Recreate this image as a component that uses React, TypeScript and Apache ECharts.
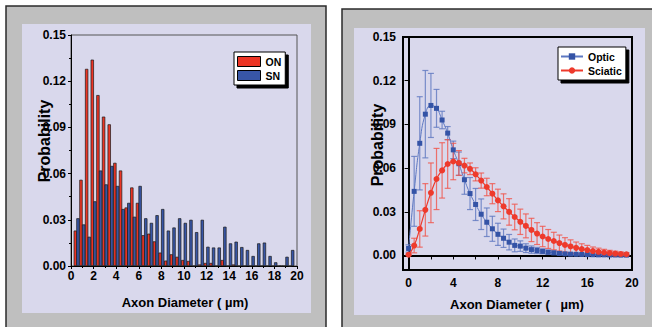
import React, { useEffect, useRef } from "react";
import * as echarts from "echarts";

// ---------- Left panel: histogram ----------
const binCenters = [0.5, 1, 1.5, 2, 2.5, 3, 3.5, 4, 4.5, 5, 5.5, 6, 6.5, 7, 7.5, 8, 8.5, 9, 9.5, 10,
  10.5, 11, 11.5, 12, 12.5, 13, 13.5, 14, 14.5, 15, 15.5, 16, 16.5, 17, 17.5, 18, 18.5, 19, 19.5];
const onValues = [0.023, 0.056, 0.128, 0.134, 0.111, 0.097, 0.092, 0.067, 0.062, 0.038, 0.051, 0.041, 0.020, 0.021, 0.016, 0.0087, 0.0035, 0.0076, 0.006, 0.0039,
  0.0033, 0, 0.001, 0.002, 0.002, 0, 0.0039, 0, 0.001, 0, 0, 0, 0, 0, 0, 0, 0, 0, 0];
const snValues = [0.031, 0.027, 0.019, 0.042, 0.062, 0.053, 0.065, 0.052, 0.037, 0.041, 0.032, 0.052, 0.031, 0.028, 0.033, 0.037, 0.023, 0.025, 0.031, 0.028,
  0.030, 0.022, 0.030, 0.0125, 0.012, 0.012, 0.0255, 0.0147, 0.0158, 0.0123, 0.0104, 0.0065, 0.0147, 0.0152, 0.0065, 0.0024, 0, 0.006, 0.0104];
const leftXTicks = [0, 2, 4, 6, 8, 10, 12, 14, 16, 18, 20];
const leftYTicks = [0, 0.03, 0.06, 0.09, 0.12, 0.15];

// ---------- Right panel: distributions with error bars ----------
const diameters = [0, 0.5, 1, 1.5, 2, 2.5, 3, 3.5, 4, 4.5, 5, 5.5, 6, 6.5, 7, 7.5, 8, 8.5, 9, 9.5,
  10, 10.5, 11, 11.5, 12, 12.5, 13, 13.5, 14, 14.5, 15, 15.5, 16, 16.5, 17, 17.5, 18, 18.5, 19, 19.5];
const opticMean = [0.0048, 0.044, 0.077, 0.097, 0.103, 0.101, 0.093, 0.084, 0.0725, 0.063, 0.052, 0.0425, 0.035, 0.0283, 0.0228, 0.0183, 0.0145, 0.0118, 0.0091, 0.0069,
  0.0064, 0.005, 0.004, 0.0034, 0.0028, 0.0022, 0.0018, 0.0014, 0.0011, 0.0009, 0.0008, 0.0007, 0.0006, 0.0005, 0.0004, 0.0004, 0.0003, 0.0003, 0.0002, 0.0002];
const opticErr = [0.0025, 0.024, 0.032, 0.030, 0.022, 0.013, 0.006, 0.0045, 0.006, 0.008, 0.010, 0.011, 0.011, 0.0105, 0.0098, 0.0086, 0.0076, 0.0063, 0.0053, 0.0044,
  0.0036, 0.003, 0.0025, 0.0021, 0.0017, 0.0014, 0.0012, 0.001, 0.0008, 0.0007, 0.0006, 0.0005, 0.0004, 0.0004, 0.0003, 0.0003, 0.0003, 0.0002, 0.0002, 0.0002];
const sciaticMean = [0.0005, 0.0068, 0.0182, 0.0313, 0.043, 0.0525, 0.0584, 0.0628, 0.0645, 0.0635, 0.0617, 0.0595, 0.0557, 0.0514, 0.047, 0.0424, 0.0378, 0.0337, 0.0299, 0.0264,
  0.0231, 0.0203, 0.0175, 0.015, 0.013, 0.0113, 0.0099, 0.0085, 0.0072, 0.0062, 0.0052, 0.0044, 0.0037, 0.003, 0.0025, 0.002, 0.0016, 0.0013, 0.001, 0.0008];
const sciaticErr = [0.0005, 0.005, 0.0125, 0.018, 0.0205, 0.021, 0.019, 0.0167, 0.0125, 0.0085, 0.005, 0.004, 0.0045, 0.0052, 0.006, 0.0069, 0.0077, 0.0086, 0.0091, 0.0088,
  0.0087, 0.0082, 0.008, 0.0075, 0.007, 0.0065, 0.006, 0.0055, 0.005, 0.0045, 0.004, 0.0036, 0.0032, 0.0028, 0.0025, 0.0022, 0.0019, 0.0016, 0.0014, 0.0012];
const rightXTicks = [0, 4, 8, 12, 16, 20];
const rightXMinor = [0, 2, 4, 6, 8, 10, 12, 14, 16, 18, 20];
const rightYTicks = [0, 0.03, 0.06, 0.09, 0.12, 0.15];

const ARIAL = "Arial, 'Liberation Sans', sans-serif";
const LAVENDER = "#d9d8ec";
const FRAME = "#bfbfbf";
const RED = "#ec3424";
const BLUE = "#3856a6";

const tickLabel = { color: "#000", fontFamily: ARIAL, fontWeight: "bold", fontSize: 12 };

function errorBarRenderer(color: string) {
  return (params: any, api: any) => {
    const x = api.value(0);
    const lo = api.value(1);
    const hi = api.value(2);
    const top = api.coord([x, hi]);
    const bot = api.coord([x, lo]);
    const hw = 3;
    const style = { stroke: color, lineWidth: 1.2 };
    return {
      type: "group",
      children: [
        { type: "line", shape: { x1: top[0], y1: top[1], x2: bot[0], y2: bot[1] }, style },
        { type: "line", shape: { x1: top[0] - hw, y1: top[1], x2: top[0] + hw, y2: top[1] }, style },
        { type: "line", shape: { x1: bot[0] - hw, y1: bot[1], x2: bot[0] + hw, y2: bot[1] }, style },
      ],
    };
  };
}

export default function App() {
  const ref = useRef<HTMLDivElement>(null);
  useEffect(() => {
    if (!ref.current) return;
    const chart = echarts.init(ref.current, null, { renderer: "svg" });
    const option: any = {
      animation: false,
      backgroundColor: "#fff",
      graphic: [
        { type: "rect", z: -10, shape: { x: 6, y: 6, width: 320, height: 330 }, style: { fill: FRAME, stroke: "#2b2b2b", lineWidth: 1.5 } },
        { type: "rect", z: -9, shape: { x: 22, y: 24, width: 289, height: 289 }, style: { fill: LAVENDER } },
        { type: "rect", z: -10, shape: { x: 342, y: 9, width: 330, height: 330 }, style: { fill: FRAME, stroke: "#2b2b2b", lineWidth: 1.5 } },
        { type: "rect", z: -9, shape: { x: 354, y: 28, width: 291, height: 287 }, style: { fill: LAVENDER } },
        { type: "text", z: 50, x: 44, y: 141, rotation: Math.PI / 2, style: { text: "Probability", fill: "#000", font: `bold 16px ${ARIAL}`, textAlign: "center", textVerticalAlign: "middle" } },
        { type: "text", z: 50, x: 377, y: 145, rotation: Math.PI / 2, style: { text: "Probability", fill: "#000", font: `bold 16px ${ARIAL}`, textAlign: "center", textVerticalAlign: "middle" } },
        { type: "text", z: 50, x: 185, y: 302, style: { text: "Axon Diameter ( µm)", fill: "#000", font: `bold 13px ${ARIAL}`, textAlign: "center", textVerticalAlign: "middle" } },
        { type: "text", z: 50, x: 517, y: 304, style: { text: "Axon Diameter (   µm)", fill: "#000", font: `bold 13px ${ARIAL}`, textAlign: "center", textVerticalAlign: "middle" } },
      ],
      grid: [
        { left: 71, top: 35, width: 226, height: 231, show: true, borderColor: "#555", borderWidth: 1, backgroundColor: "transparent" },
        { left: 403, top: 37, width: 229, height: 233, show: true, borderColor: "#000", borderWidth: 2, backgroundColor: "transparent" },
      ],
      legend: [
        {
          left: 234, top: 52, orient: "vertical", data: ["ON", "SN"], icon: "rect", itemWidth: 23, itemHeight: 10, itemGap: 3,
          padding: [4, 4, 4, 3], backgroundColor: "#fff", borderColor: "#000", borderWidth: 1,
          shadowColor: "#000", shadowBlur: 0, shadowOffsetX: 3, shadowOffsetY: 3,
          itemStyle: { borderColor: "#000", borderWidth: 1 },
          textStyle: { color: "#000", fontFamily: ARIAL, fontWeight: "bold", fontSize: 10.5 },
        },
        {
          left: 558, top: 47, orient: "vertical", data: ["Optic", "Sciatic"], itemWidth: 22, itemHeight: 8, itemGap: 3,
          padding: [4, 4, 4, 2], backgroundColor: "#fff", borderColor: "#000", borderWidth: 1,
          shadowColor: "#000", shadowBlur: 0, shadowOffsetX: 3, shadowOffsetY: 3,
          textStyle: { color: "#000", fontFamily: ARIAL, fontWeight: "bold", fontSize: 10.5 },
        },
      ],
      xAxis: [
        {
          gridIndex: 0, type: "value", min: 0, max: 20, interval: 2,
          axisLine: { show: true, lineStyle: { color: "#000", width: 1 } },
          axisTick: { show: true, length: 3, lineStyle: { color: "#000" } },
          minorTick: { show: true, splitNumber: 2, length: 2, lineStyle: { color: "#000" } },
          splitLine: { show: false },
          axisLabel: { ...tickLabel, margin: 4, customValues: leftXTicks },
        },
        {
          gridIndex: 1, type: "value", min: -0.5, max: 20,
          axisLine: { show: true, lineStyle: { color: "#000", width: 2 } },
          axisTick: { show: true, length: 4, customValues: rightXMinor, lineStyle: { color: "#000", width: 1 } },
          splitLine: { show: false },
          axisLabel: { ...tickLabel, margin: 7, customValues: rightXTicks },
        },
      ],
      yAxis: [
        {
          gridIndex: 0, type: "value", min: 0, max: 0.15, interval: 0.03,
          axisLine: { show: true, lineStyle: { color: "#000", width: 1 } },
          axisTick: { show: true, length: 3, lineStyle: { color: "#000" } },
          minorTick: { show: true, splitNumber: 2, length: 2, lineStyle: { color: "#000" } },
          splitLine: { show: false },
          axisLabel: { ...tickLabel, margin: 5, customValues: leftYTicks, formatter: (v: number) => v.toFixed(2) },
        },
        {
          gridIndex: 1, type: "value", min: -0.01, max: 0.15,
          axisLine: { show: true, lineStyle: { color: "#000", width: 2 } },
          axisTick: { show: true, length: 4, customValues: rightYTicks, lineStyle: { color: "#000", width: 1 } },
          splitLine: { show: false },
          axisLabel: { ...tickLabel, margin: 7, customValues: rightYTicks, formatter: (v: number) => v.toFixed(2) },
        },
      ],
      series: [
        {
          name: "ON", type: "bar", xAxisIndex: 0, yAxisIndex: 0, barWidth: 3.3, barGap: "-20%",
          itemStyle: { color: RED, borderColor: "#1a1a1a", borderWidth: 0.7 },
          data: binCenters.map((x, i) => [x, onValues[i]]),
        },
        {
          name: "SN", type: "bar", xAxisIndex: 0, yAxisIndex: 0, barWidth: 3.3, barGap: "-20%",
          itemStyle: { color: BLUE, borderColor: "#1a1a1a", borderWidth: 0.7 },
          data: binCenters.map((x, i) => [x, snValues[i]]),
        },
        {
          name: "OpticErr", type: "custom", xAxisIndex: 1, yAxisIndex: 1, z: 2,
          renderItem: errorBarRenderer("rgba(95,120,192,0.8)"),
          encode: { x: 0, y: [1, 2] },
          data: diameters.map((x, i) => [x, opticMean[i] - opticErr[i], opticMean[i] + opticErr[i]]),
        },
        {
          name: "SciaticErr", type: "custom", xAxisIndex: 1, yAxisIndex: 1, z: 2,
          renderItem: errorBarRenderer("rgba(240,85,75,0.8)"),
          encode: { x: 0, y: [1, 2] },
          data: diameters.map((x, i) => [x, sciaticMean[i] - sciaticErr[i], sciaticMean[i] + sciaticErr[i]]),
        },
        {
          name: "Optic", type: "line", xAxisIndex: 1, yAxisIndex: 1, z: 3, smooth: true,
          symbol: "rect", symbolSize: 5,
          itemStyle: { color: "#3453a6" },
          lineStyle: { color: "#5d78c2", width: 1 },
          data: diameters.map((x, i) => [x, opticMean[i]]),
        },
        {
          name: "Sciatic", type: "line", xAxisIndex: 1, yAxisIndex: 1, z: 4, smooth: true,
          symbol: "circle", symbolSize: 6,
          itemStyle: { color: "#ee3a2c" },
          lineStyle: { color: "#ee3a2c", width: 1.2 },
          data: diameters.map((x, i) => [x, sciaticMean[i]]),
        },
      ],
    };
    chart.setOption(option);
    return () => chart.dispose();
  }, []);
  return <div ref={ref} style={{ position: "absolute", left: 0, top: 0, width: 652, height: 327 }} />;
}
